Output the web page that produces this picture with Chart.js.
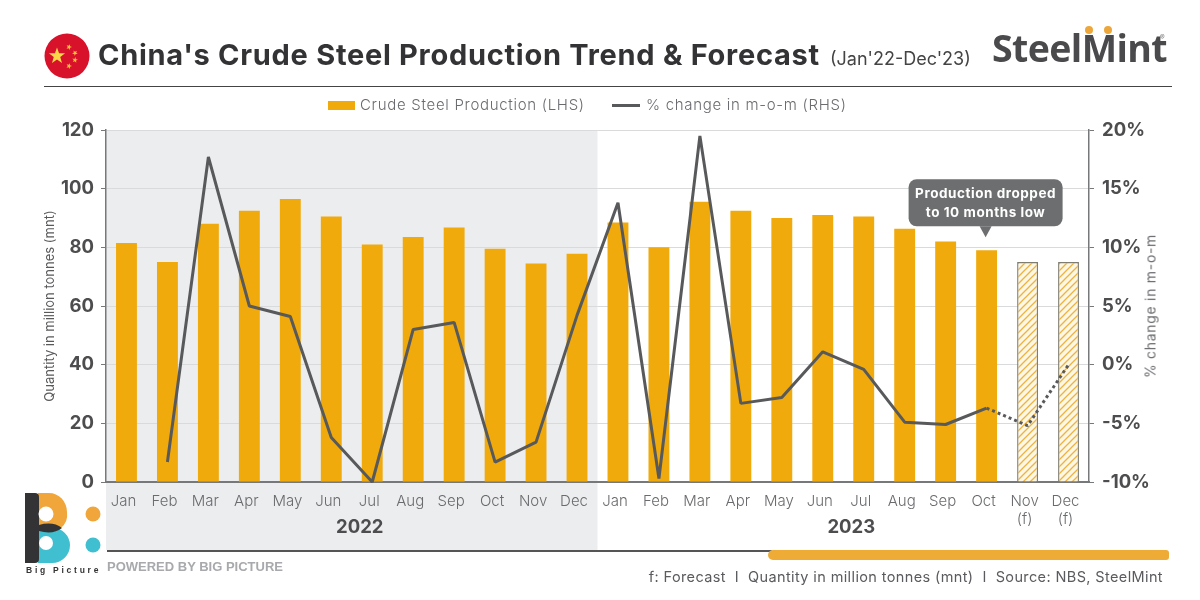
<!DOCTYPE html>
<html lang="en">

<head>
    <meta charset="UTF-8">
    <title>China's Crude Steel Production Trend & Forecast</title>
    <script src="https://cdn.jsdelivr.net/npm/chart.js"></script>
    <style>
        html, body { margin: 0; padding: 0; background: #fff; overflow: hidden; }
        .page { position: relative; width: 1200px; height: 600px; font-family: Inter, sans-serif; }
        canvas { position: absolute; left: 0; top: 0; }
        .txt { position: absolute; white-space: nowrap; }
        .title { left: 98px; top: 37px; font-size: 29px; font-weight: 700; color: #333335; line-height: 36px; letter-spacing: 0.72px; }
        .sub { left: 830px; top: 46px; font-size: 18px; font-weight: 400; color: #444; line-height: 26px; }
        .rule { position: absolute; left: 44px; top: 86px; width: 1128px; height: 1px; background: #444; }
        .legend { top: 95px; font-size: 15px; color: #6a6b6e; line-height: 20px; font-weight: 300; letter-spacing: 0.7px; }
        .swatch { position: absolute; }
        .rhs { left: 1150px; top: 306px; transform: translate(-50%, -50%) rotate(-90deg); font-size: 14px; color: #6a6b6e; letter-spacing: 0.7px; font-weight: 400; }
        .brand { left: 992px; top: 22px; font-family: "Open Sans", sans-serif; font-weight: 700; font-size: 37.5px; line-height: 52px; color: #4a4a4c; letter-spacing: -0.6px; }
        .dot { position: absolute; border-radius: 50%; }
        .reg { left: 1160px; top: 33px; font-size: 7px; color: #777; }
        .bline { position: absolute; left: 107px; top: 550px; width: 665px; height: 1.5px; background: #555; }
        .bbar { position: absolute; left: 768px; top: 550px; width: 401px; height: 10px; background: #eeac36; border-radius: 5px 3px 3px 5px; }
        .powered { left: 107px; top: 559px; font-family: "Liberation Sans", sans-serif; font-weight: 700; font-size: 13px; color: #a7a9ac; }
        .foot { right: 37px; top: 568px; font-size: 14.5px; color: #5a5b5e; letter-spacing: 0.38px; }
        .bigpic { left: 26px; top: 565px; font-family: "Liberation Sans", sans-serif; font-weight: 700; font-size: 8.5px; letter-spacing: 2.75px; color: #333; }
    </style>
</head>

<body>
    <div class="page">
        <canvas id="steelChart" width="1200" height="600"></canvas>

        <svg style="position:absolute;left:44px;top:33px" width="46" height="46" viewBox="0 0 46 46">
            <defs>
                <polygon id="star" points="0,-10 2.4,-3.2 9.5,-3.1 3.8,1.2 5.9,8.1 0,4 -5.9,8.1 -3.8,1.2 -9.5,-3.1 -2.4,-3.2"></polygon>
            </defs>
            <circle cx="23" cy="23" r="22.5" fill="#d7122a"></circle>
            <use href="#star" fill="#fbd84a" transform="translate(13,23) scale(0.85)"></use>
            <use href="#star" fill="#fbbf3a" transform="translate(25,14) rotate(20) scale(0.3)"></use>
            <use href="#star" fill="#fbbf3a" transform="translate(31,20) rotate(40) scale(0.3)"></use>
            <use href="#star" fill="#fbbf3a" transform="translate(31,27) rotate(10) scale(0.3)"></use>
            <use href="#star" fill="#fbbf3a" transform="translate(25,33) rotate(20) scale(0.3)"></use>
        </svg>
        <div class="txt title">China's Crude Steel Production Trend &amp; Forecast</div>
        <div class="txt sub">(Jan'22-Dec'23)</div>
        <div class="txt brand">SteelMint</div>
        <div class="dot" style="left:1085px;top:26px;width:8px;height:8px;background:#eca63a"></div>
        <div class="dot" style="left:1104px;top:26px;width:8px;height:8px;background:#eca63a"></div>
        <div class="txt reg">®</div>
        <div class="rule"></div>

        <div class="swatch" style="left:328px;top:101px;width:27px;height:9px;background:#f0aa0c"></div>
        <div class="txt legend" style="left:360px">Crude Steel Production (LHS)</div>
        <div class="swatch" style="left:612px;top:104px;width:28px;height:3px;background:#58595b"></div>
        <div class="txt legend" style="left:646px">% change in m-o-m (RHS)</div>

        <div class="txt rhs">% change in m-o-m</div>

        <div class="bline"></div>
        <div class="bbar"></div>
        <div class="txt powered">POWERED BY BIG PICTURE</div>
        <div class="txt foot">f: Forecast&nbsp; I&nbsp; Quantity in million tonnes (mnt)&nbsp; I&nbsp; Source: NBS, SteelMint</div>

        <svg style="position:absolute;left:25px;top:492px" width="80" height="72" viewBox="0 0 80 72">
            <path d="M13 1 H24 A18 19 0 0 1 42 20 A18 18 0 0 1 36 36 H13 Z" fill="#f0a63a"></path>
            <path d="M13 36 H28 A17 17.5 0 0 1 45 53 A18 18 0 0 1 27 71 H13 Z" fill="#3fbfcf"></path>
            <path d="M0 1 H10 A4 4 0 0 1 14 5 V33 Q28 29 37 36 Q28 43 14 39 V67 A4 4 0 0 1 10 71 H0 Z" fill="#333335"></path>
            <circle cx="21" cy="22" r="7.5" fill="#fff"></circle>
            <circle cx="21" cy="51" r="7" fill="#fff"></circle>
            <circle cx="68" cy="22" r="7.5" fill="#f0a63a"></circle>
            <circle cx="68" cy="53" r="7.5" fill="#3fbfcf"></circle>
        </svg>
        <div class="txt bigpic">Big Picture</div>
    </div>

    <script>
        const categories = ["Jan", "Feb", "Mar", "Apr", "May", "Jun", "Jul", "Aug", "Sep", "Oct", "Nov", "Dec",
            "Jan", "Feb", "Mar", "Apr", "May", "Jun", "Jul", "Aug", "Sep", "Oct", ["Nov", "(f)"], ["Dec", "(f)"]];
        const production = [81.5, 75, 88, 92.5, 96.5, 90.5, 81, 83.5, 86.8, 79.5, 74.5, 77.8,
            88.5, 80, 95.5, 92.5, 90, 91, 90.5, 86.3, 82, 79, 75, 75];
        const momChange = [null, -8.3, 17.7, 5, 4.1, -6.2, -10, 3, 3.6, -8.3, -6.6, 4.2,
            13.8, -9.7, 19.5, -3.3, -2.8, 1.1, -0.4, -4.9, -5.1, -3.7, -5.2, 0];
        const years = [{ label: "2022", from: 0, to: 11 }, { label: "2023", from: 12, to: 23 }];
        const firstForecast = 22;
        const lowIndex = 21;
        const calloutLines = ["Production dropped", "to 10 months low"];

        const fontName = "Inter, sans-serif";
        const grey = "#58595b";

        function hatchPattern() {
            const tile = document.createElement('canvas');
            tile.width = 7;
            tile.height = 7;
            const c = tile.getContext('2d');
            c.fillStyle = "#fdf7e4";
            c.fillRect(0, 0, 7, 7);
            c.strokeStyle = "#ebb341";
            c.lineWidth = 1.3;
            c.beginPath();
            c.moveTo(-1, 8); c.lineTo(8, -1);
            c.moveTo(-1, 1); c.lineTo(1, -1);
            c.moveTo(6, 8); c.lineTo(8, 6);
            c.stroke();
            return c.createPattern(tile, 'repeat');
        }
        const hatch = hatchPattern();

        // grey 2022 band sits behind everything, down to the bottom rule
        const bandPlugin = {
            id: 'band',
            beforeDraw(chart) {
                const { ctx, chartArea, scales } = chart;
                const right = (scales.x.getPixelForValue(11) + scales.x.getPixelForValue(12)) / 2;
                ctx.save();
                ctx.fillStyle = "#ecedef";
                ctx.fillRect(chartArea.left, chartArea.top, right - chartArea.left, 550 - chartArea.top);
                ctx.restore();
            }
        };

        const notesPlugin = {
            id: 'notes',
            afterDraw(chart) {
                const { ctx, scales } = chart;
                ctx.save();
                // year labels under the month ticks
                ctx.textAlign = 'center';
                ctx.textBaseline = 'middle';
                ctx.fillStyle = "#4d4d4f";
                ctx.font = "700 18.5px " + fontName;
                years.forEach((y) => {
                    const mid = (scales.x.getPixelForValue(y.from) + scales.x.getPixelForValue(y.to)) / 2;
                    ctx.fillText(y.label, mid + 8, 527);
                });
                // callout over the Oct 2023 bar
                const cx = scales.x.getPixelForValue(lowIndex) - 1;
                const tip = scales.y.getPixelForValue(production[lowIndex]) - 13;
                const boxBottom = tip - 11;
                const boxTop = boxBottom - 47;
                ctx.fillStyle = "#6d6e6f";
                ctx.beginPath();
                ctx.roundRect(cx - 77, boxTop, 154, 47, 8);
                ctx.fill();
                ctx.beginPath();
                ctx.moveTo(cx - 6, boxBottom);
                ctx.lineTo(cx + 6, boxBottom);
                ctx.lineTo(cx, tip);
                ctx.closePath();
                ctx.fill();
                ctx.fillStyle = "#fff";
                ctx.font = "700 13.5px " + fontName;
                ctx.letterSpacing = "0.55px";
                calloutLines.forEach((line, i) => ctx.fillText(line, cx, boxTop + 15 + i * 19));
                ctx.restore();
            }
        };

        new Chart(document.getElementById('steelChart'), {
            data: {
                labels: categories,
                datasets: [
                    {
                        type: 'line',
                        label: '% change in m-o-m (RHS)',
                        data: momChange,
                        yAxisID: 'y1',
                        order: 0,
                        borderColor: grey,
                        borderWidth: 3,
                        borderJoinStyle: 'bevel',
                        pointRadius: 0,
                        tension: 0,
                        clip: false,
                        segment: {
                            borderDash: (c) => c.p0DataIndex >= lowIndex ? [3, 3] : undefined
                        }
                    },
                    {
                        type: 'bar',
                        label: 'Crude Steel Production (LHS)',
                        data: production,
                        yAxisID: 'y',
                        order: 1,
                        barPercentage: 0.51,
                        categoryPercentage: 1,
                        backgroundColor: production.map((v, i) => i >= firstForecast ? hatch : "#f0aa0c"),
                        borderColor: production.map((v, i) => i >= firstForecast ? "#7f7c70" : "#f0aa0c"),
                        borderWidth: production.map((v, i) => i >= firstForecast ? 1.4 : 0)
                    }
                ]
            },
            plugins: [bandPlugin, notesPlugin],
            options: {
                responsive: false,
                animation: false,
                devicePixelRatio: 1,
                layout: { padding: { top: 130 } },
                plugins: {
                    legend: { display: false },
                    tooltip: { enabled: false }
                },
                scales: {
                    x: {
                        grid: { display: false, drawTicks: false },
                        border: { color: "#77787a", width: 2 },
                        ticks: {
                            color: "#6a6b6e",
                            font: { family: fontName, size: 15, weight: 300, lineHeight: 1.2 },
                            padding: 10,
                            labelOffset: -3,
                            maxRotation: 0,
                            autoSkip: false
                        },
                        afterFit(scale) { scale.height = 118; }
                    },
                    y: {
                        position: 'left',
                        min: 0,
                        max: 120,
                        grid: { color: "#d9dadb", lineWidth: 1, tickColor: "#77787a", tickLength: 5 },
                        border: { color: "#77787a", width: 1.5 },
                        ticks: {
                            stepSize: 20,
                            color: "#4d4d4f",
                            padding: 7,
                            font: { family: fontName, size: 18.5, weight: 700 }
                        },
                        title: {
                            display: true,
                            text: 'Quantity in million tonnes (mnt)',
                            color: "#58595b",
                            font: { family: fontName, size: 13, weight: 400 },
                            padding: { top: 42, bottom: 0 }
                        },
                        afterFit(scale) { scale.width = 106; }
                    },
                    y1: {
                        position: 'right',
                        min: -10,
                        max: 20,
                        grid: { drawOnChartArea: false, tickColor: "#77787a", tickLength: 5 },
                        border: { color: "#77787a", width: 1.5 },
                        ticks: {
                            stepSize: 5,
                            color: "#4d4d4f",
                            padding: 8,
                            font: { family: fontName, size: 18.5, weight: 700 },
                            callback: (v) => v + '%'
                        },
                        afterFit(scale) { scale.width = 111; }
                    }
                }
            }
        });
    </script>
</body>

</html>
